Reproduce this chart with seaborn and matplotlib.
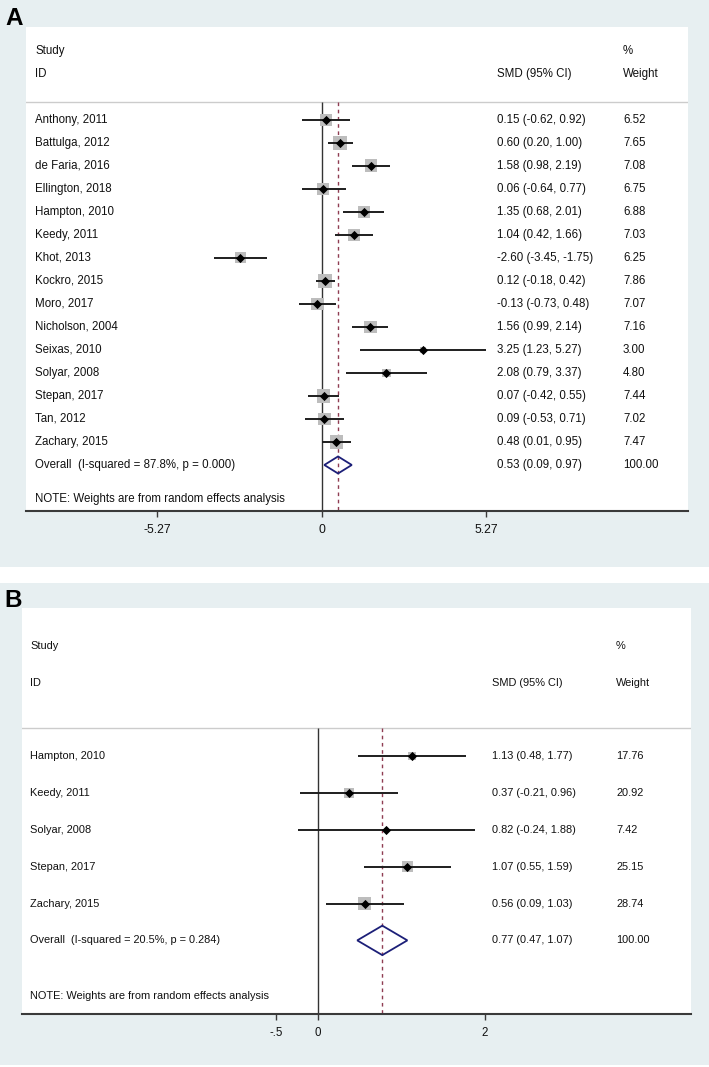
import numpy as np
import pandas as pd
import matplotlib.pyplot as plt
from matplotlib.patches import Rectangle
import seaborn as sns

# ---- Panel A data ----
studies_a = ["Anthony, 2011", "Battulga, 2012", "de Faria, 2016", "Ellington, 2018",
             "Hampton, 2010", "Keedy, 2011", "Khot, 2013", "Kockro, 2015", "Moro, 2017",
             "Nicholson, 2004", "Seixas, 2010", "Solyar, 2008", "Stepan, 2017",
             "Tan, 2012", "Zachary, 2015"]
smd_a = [0.15, 0.60, 1.58, 0.06, 1.35, 1.04, -2.60, 0.12, -0.13, 1.56, 3.25, 2.08, 0.07, 0.09, 0.48]
lo_a = [-0.62, 0.20, 0.98, -0.64, 0.68, 0.42, -3.45, -0.18, -0.73, 0.99, 1.23, 0.79, -0.42, -0.53, 0.01]
hi_a = [0.92, 1.00, 2.19, 0.77, 2.01, 1.66, -1.75, 0.42, 0.48, 2.14, 5.27, 3.37, 0.55, 0.71, 0.95]
wt_a = [6.52, 7.65, 7.08, 6.75, 6.88, 7.03, 6.25, 7.86, 7.07, 7.16, 3.00, 4.80, 7.44, 7.02, 7.47]
overall_a = (0.53, 0.09, 0.97)
i2_a, p_a = 87.8, 0.000
ticks_a = [-5.27, 0, 5.27]
ticklabels_a = ["-5.27", "0", "5.27"]

# ---- Panel B data ----
studies_b = ["Hampton, 2010", "Keedy, 2011", "Solyar, 2008", "Stepan, 2017", "Zachary, 2015"]
smd_b = [1.13, 0.37, 0.82, 1.07, 0.56]
lo_b = [0.48, -0.21, -0.24, 0.55, 0.09]
hi_b = [1.77, 0.96, 1.88, 1.59, 1.03]
wt_b = [17.76, 20.92, 7.42, 25.15, 28.74]
overall_b = (0.77, 0.47, 1.07)
i2_b, p_b = 20.5, 0.284
ticks_b = [-0.5, 0, 2]
ticklabels_b = ["-.5", "0", "2"]

W, H = 709, 1067
BG = "#e7eff1"
plt.rcParams["font.family"] = ["Liberation Sans", "DejaVu Sans"]

fig = plt.figure(figsize=(W / 100, H / 100), dpi=100)


def px_rect(x0, y0, x1, y1):
    return [x0 / W, 1 - y1 / H, (x1 - x0) / W, (y1 - y0) / H]


# panel backgrounds
for y0, y1 in [(0, 567), (583, 1065)]:
    fig.patches.append(Rectangle((0, 1 - y1 / H), 1, (y1 - y0) / H, transform=fig.transFigure,
                                 facecolor=BG, edgecolor="none", zorder=-5))


def forest(ax, studies, smd, lo, hi, wt, overall, i2, p, ticks, ticklabels,
           xlim, cols, fs, box_px, dia_h):
    df = pd.DataFrame({"study": studies, "smd": smd, "lo": lo, "hi": hi, "wt": wt})
    n = len(df)
    df["row"] = np.arange(n)
    ax.set_xlim(*xlim)
    ax.set_ylim(n + 2, -4.03)
    ax.set_facecolor("white")

    sep = -0.78
    ax.axhline(sep, color="#cccccc", lw=1.0, zorder=1)
    ax.vlines(0, sep, n + 2, color="#333333", lw=1.0, zorder=2)
    ax.vlines(overall[0], sep, n + 2, color="#8f3d52", lw=1.0, ls=(0, (2.6, 2.6)), zorder=2)

    # weight boxes (side proportional to weight)
    side = box_px * df["wt"] / df["wt"].max()
    sns.scatterplot(data=df, x="smd", y="row", marker="s", color="#bdbdbd",
                    s=(side * 0.72) ** 2, linewidth=0, ax=ax, zorder=3, legend=False)
    ax.hlines(df["row"], df["lo"], df["hi"], color="#1e1e1e", lw=1.4, zorder=4)
    sns.scatterplot(data=df, x="smd", y="row", marker="D", color="black",
                    s=22, linewidth=0, ax=ax, zorder=5, legend=False)

    # overall diamond
    est, olo, ohi = overall
    ax.fill([olo, est, ohi, est, olo], [n, n - dia_h, n, n + dia_h, n],
            fill=False, edgecolor="#1c1f78", lw=1.3, zorder=4)

    tr = ax.get_yaxis_transform()
    c_name, c_smd, c_wt = cols
    kw = dict(transform=tr, va="center", fontsize=fs, color="#111111")
    ax.text(c_name, -3, "Study", **kw)
    ax.text(c_name, -2, "ID", **kw)
    ax.text(c_wt, -3, "%", **kw)
    ax.text(c_smd, -2, "SMD (95% CI)", **kw)
    ax.text(c_wt, -2, "Weight", **kw)
    for r in df.itertuples():
        ax.text(c_name, r.row, r.study, **kw)
        ax.text(c_smd, r.row, f"{r.smd:.2f} ({r.lo:.2f}, {r.hi:.2f})", **kw)
        ax.text(c_wt, r.row, f"{r.wt:.2f}", **kw)
    ax.text(c_name, n, f"Overall  (I-squared = {i2:.1f}%, p = {p:.3f})", **kw)
    ax.text(c_smd, n, f"{est:.2f} ({olo:.2f}, {ohi:.2f})", **kw)
    ax.text(c_wt, n, f"{100:.2f}", **kw)
    ax.text(c_name, n + 1.5, "NOTE: Weights are from random effects analysis", **kw)

    ax.set_xticks(ticks)
    ax.set_xticklabels(ticklabels)
    ax.set_yticks([])
    ax.set_xlabel("")
    ax.set_ylabel("")
    for s in ["left", "right", "top"]:
        ax.spines[s].set_visible(False)
    ax.spines["bottom"].set_color("#3a3a3a")
    ax.spines["bottom"].set_linewidth(1.5)
    ax.tick_params(axis="x", direction="out", length=4.5, width=1, color="#3a3a3a",
                   labelsize=fs + 0.4, labelcolor="#111111", pad=5)


ax_a = fig.add_axes(px_rect(26, 27, 688, 511))
forest(ax_a, studies_a, smd_a, lo_a, hi_a, wt_a, overall_a, i2_a, p_a, ticks_a, ticklabels_a,
       xlim=((26 - 321.5) / 31.22, (688 - 321.5) / 31.22),
       cols=(0.0136, 0.7115, 0.9018), fs=8.3, box_px=14, dia_h=0.37)

ax_b = fig.add_axes(px_rect(22, 608, 691, 1014))
forest(ax_b, studies_b, smd_b, lo_b, hi_b, wt_b, overall_b, i2_b, p_b, ticks_b, ticklabels_b,
       xlim=((22 - 318) / 83.5, (691 - 318) / 83.5),
       cols=(0.012, 0.7025, 0.888), fs=7.9, box_px=13, dia_h=0.4)

fig.text(5 / W, 1 - 25 / H, "A", fontsize=17.5, fontweight="bold", color="black")
fig.text(4 / W, 1 - 607 / H, "B", fontsize=17.5, fontweight="bold", color="black")

fig.savefig("out.png", dpi=100)
